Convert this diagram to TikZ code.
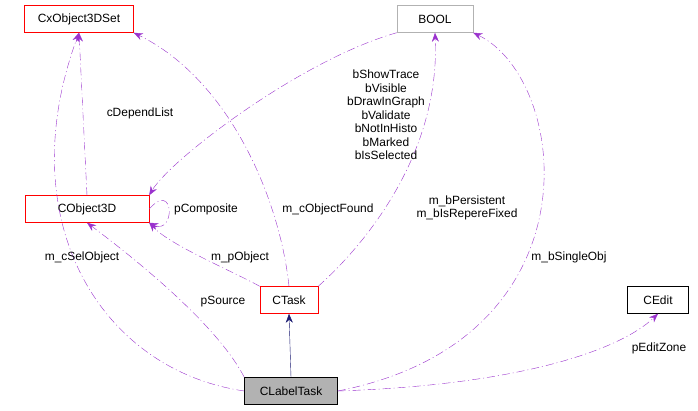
\documentclass[tikz,border=0pt]{standalone}
\usepackage{fontspec}
\setmainfont{Liberation Sans}
\usetikzlibrary{arrows.meta}
\definecolor{usecol}{HTML}{9A32CD}
\definecolor{inhcol}{HTML}{191970}
\begin{document}
\begin{tikzpicture}[
        x=1bp, y=-1bp,
        font=\fontsize{12}{13.5}\selectfont
    ]
    \tikzset{
        classnode/.style = {rectangle, draw=red, inner sep=0pt, minimum height=27bp},
        usage/.style = {draw=usecol, dash pattern=on 8bp off 3bp on 1bp off 3bp, -{Stealth[length=9bp,width=7bp]}},
        inherit/.style = {draw=inhcol, -{Stealth[length=9bp,width=7bp]}},
        lbl/.style = {align=center, inner sep=1bp},
    }
    \useasboundingbox (0,0) rectangle (698,410);
    % classes
    \node[classnode, minimum width=109bp] (set) at (79,19) {CxObject3DSet};
    \node[classnode, draw=gray!60, minimum width=76bp] (bool) at (435,19) {BOOL};
    \node[classnode, minimum width=124bp] (obj) at (87,209) {CObject3D};
    \node[classnode, minimum width=58bp] (task) at (289,300) {CTask};
    \node[classnode, draw=black, minimum width=61bp] (edit) at (658,300) {CEdit};
    \node[classnode, draw=black, fill=gray!60, minimum width=93bp] (label) at (291,391) {CLabelTask};
    % connectors
    \draw[usage] (obj.north) -- (set.south);
    \draw[usage] (bool.south west) .. controls (300,60) and (170,160) .. (obj.north east);
    \draw[usage] (obj.east) .. controls (175,180) and (175,235) .. (obj.south east);
    \draw[usage] (task.north west) .. controls (230,270) and (170,245) .. (obj.south east);
    \draw[usage] (task.north) .. controls (280,200) and (230,80) .. (set.south east);
    \draw[usage] (task.north east) .. controls (370,240) and (440,150) .. (bool.south);
    \draw[usage] (label.west) .. controls (100,370) and (10,220) .. (set.south);
    \draw[usage] (label.north west) .. controls (220,330) and (150,270) .. (obj.south);
    \draw[usage] (label.east) .. controls (600,340) and (570,80) .. (bool.south east);
    \draw[usage] (label.east) .. controls (520,385) and (620,350) .. (edit.south);
    \draw[inherit] (label.north) -- (task.south);
    % labels
    \node[lbl] (l1) at (140,113) {cDependList};
    \node[lbl] (l2) at (386,115) {bShowTrace\\bVisible\\bDrawInGraph\\bValidate\\bNotInHisto\\bMarked\\bIsSelected};
    \node[lbl] (l3) at (206,209) {pComposite};
    \node[lbl] (l4) at (240,257) {m\_pObject};
    \node[lbl] (l5) at (328,209) {m\_cObjectFound};
    \node[lbl] (l6) at (467,208) {m\_bPersistent\\m\_bIsRepereFixed};
    \node[lbl] (l7) at (82,257) {m\_cSelObject};
    \node[lbl] (l8) at (223,302) {pSource};
    \node[lbl] (l9) at (569,257) {m\_bSingleObj};
    \node[lbl] (l10) at (659,348) {pEditZone};
\end{tikzpicture}
\end{document}
